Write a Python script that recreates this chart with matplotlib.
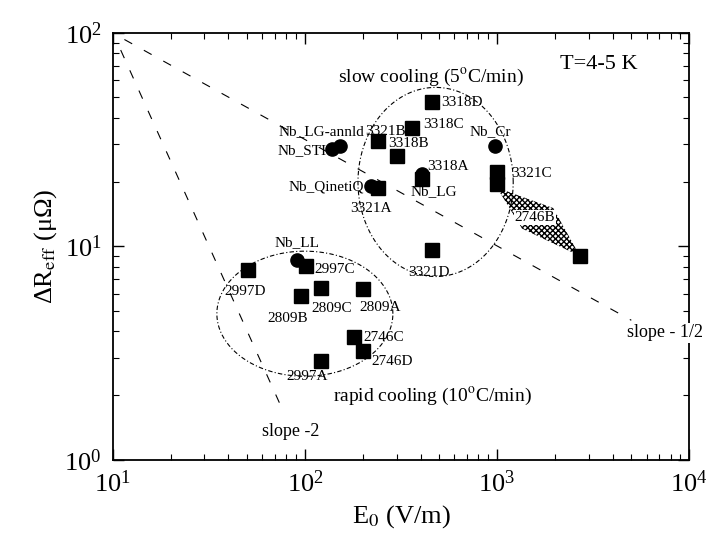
import numpy as np
import matplotlib
matplotlib.use('Agg')
import matplotlib.pyplot as plt
from matplotlib import ticker

plt.rcParams['font.family'] = ['Liberation Serif', 'DejaVu Serif']
plt.rcParams['mathtext.fontset'] = 'stix'

# square markers (samples)
sq_names = ['3318D', '3318C', '3321B', '3318B', '3318A', '3321A', '3321C', '',
            '3321D', '2746B', '2997D', '2997C', '2809C', '2809B', '2809A',
            '2746C', '2746D', '2997A']
sq_x = [457, 362, 241, 300, 405, 241, 1000, 1000,
        457, 2700, 50.7, 101, 120.7, 95.3, 201,
        180.6, 199.7, 120.7]
sq_y = [47.2, 35.8, 31.0, 26.4, 20.7, 18.7, 22.2, 19.5,
        9.6, 9.0, 7.7, 8.05, 6.4, 5.82, 6.32,
        3.76, 3.22, 2.89]

# circle markers
ci_names = ['Nb_LG-annld', 'Nb_STI', 'Nb_QinetiQ', 'Nb_LG', 'Nb_Cr', 'Nb_LL']
ci_x = [152, 139, 222, 405, 977, 91.2]
ci_y = [29.6, 28.5, 19.2, 21.9, 29.6, 8.65]

# hatched band joining 3321C and 2746B
band_x = [1000, 1960, 2700, 1350]
band_y = [18.8, 15.1, 9.0, 12.1]

# guide lines (end points)
half_x = [11.5, 5000]
half_y = [93, 4.5]
two_x = [11, 78]
two_y = [83, 1.65]

# ellipses: centre x, centre y, half widths in decades
slow_ell = [479, 20.0, 0.404, 0.443]
rapid_ell = [100, 4.83, 0.458, 0.293]

# label offsets in pixels (dx, dy, ha)
sq_off = {'3318D': (10, 0, 'left'), '3318C': (11, 3, 'left'),
          '3321B': (7, 10, 'center'), '3318B': (12, 13, 'center'),
          '3318A': (6, 12, 'left'), '3321A': (-7, -20, 'center'),
          '3321C': (14, -1, 'left'), '3321D': (-3, -22, 'center'),
          '2997D': (-3, -21, 'center'), '2997C': (9, -3, 'left'),
          '2809C': (11, -21, 'center'), '2809B': (-13, -22, 'center'),
          '2809A': (17, -19, 'center'), '2746C': (9, -1, 'left'),
          '2746D': (9, -10, 'left'), '2997A': (-13, -15, 'center')}
ci_off = {'Nb_LG-annld': (24, 14, 'right'), 'Nb_STI': (-6, -1, 'right'),
          'Nb_QinetiQ': (-7, -1, 'right'), 'Nb_LG': (12, -18, 'center'),
          'Nb_Cr': (-5, 14, 'center'), 'Nb_LL': (0, 17, 'center')}

fig, ax = plt.subplots(figsize=(7.09, 5.46), dpi=100)
plt.subplots_adjust(left=0.159, right=0.972, top=0.94, bottom=0.158)

ax.set_xscale('log')
ax.set_yscale('log')
ax.set_xlim(10, 1e4)
ax.set_ylim(1, 100)

ax.plot(half_x, half_y, color='k', lw=0.8, ls=(0, (8, 12)))
ax.plot(two_x, two_y, color='k', lw=0.8, ls=(0, (8, 12)))

t = np.linspace(0, 2 * np.pi, 300)
for cx, cy, rx, ry in [slow_ell, rapid_ell]:
    ex = 10 ** (np.log10(cx) + rx * np.cos(t))
    ey = 10 ** (np.log10(cy) + ry * np.sin(t))
    ax.plot(ex, ey, color='k', lw=0.8, ls=(0, (4, 2, 1, 2)))

ax.fill(band_x, band_y, facecolor='white', edgecolor='black', hatch='xxxxxx', lw=0)

ax.plot(sq_x, sq_y, 's', color='k', ms=9.5, ls='')
ax.plot(ci_x, ci_y, 'o', color='k', ms=9.5, ls='')

for n, x, y in zip(sq_names, sq_x, sq_y):
    if n in sq_off:
        dx, dy, ha = sq_off[n]
        ax.annotate(n, (x, y), xytext=(dx, dy), textcoords='offset pixels',
                    ha=ha, va='center', fontsize=11)
for n, x, y in zip(ci_names, ci_x, ci_y):
    dx, dy, ha = ci_off[n]
    ax.annotate(n, (x, y), xytext=(dx, dy), textcoords='offset pixels',
                ha=ha, va='center', fontsize=11)

ax.text(1578, 13.6, '2746B', fontsize=11, ha='center', va='center',
        bbox=dict(facecolor='white', edgecolor='none', pad=0.5))

ax.text(0.776, 0.925, 'T=4-5 K', transform=ax.transAxes, fontsize=16, va='center')
ax.text(0.391, 0.897, 'slow cooling (5$^{\\rm o}$C/min)', transform=ax.transAxes,
        fontsize=14, va='center')
ax.text(0.382, 0.148, 'rapid cooling (10$^{\\rm o}$C/min)', transform=ax.transAxes,
        fontsize=14, va='center')
ax.text(0.259, 0.066, 'slope -2', transform=ax.transAxes, fontsize=13, va='center')
ax.text(0.892, 0.297, 'slope - 1/2', transform=ax.transAxes, fontsize=13,
        va='center', clip_on=False, zorder=5,
        bbox=dict(facecolor='white', edgecolor='none', pad=1))

ax.set_xlabel('E$_0$ (V/m)', fontsize=19)
ax.set_ylabel('ΔR$_{\\rm eff}$ (μΩ)', fontsize=19)

ax.xaxis.set_major_locator(ticker.LogLocator(base=10))
ax.yaxis.set_major_locator(ticker.LogLocator(base=10))
subs = np.arange(2, 10, dtype=float)
ax.xaxis.set_minor_locator(ticker.LogLocator(base=10, subs=subs))
ax.yaxis.set_minor_locator(ticker.LogLocator(base=10, subs=subs))
ax.xaxis.set_minor_formatter(ticker.NullFormatter())
ax.yaxis.set_minor_formatter(ticker.NullFormatter())
ax.tick_params(which='both', direction='in', top=True, right=True, labelsize=19, pad=8)
ax.tick_params(which='major', length=8, width=1)
ax.tick_params(which='minor', length=4, width=0.8)
for s in ax.spines.values():
    s.set_linewidth(1.3)

plt.savefig('out.png', dpi=100)
